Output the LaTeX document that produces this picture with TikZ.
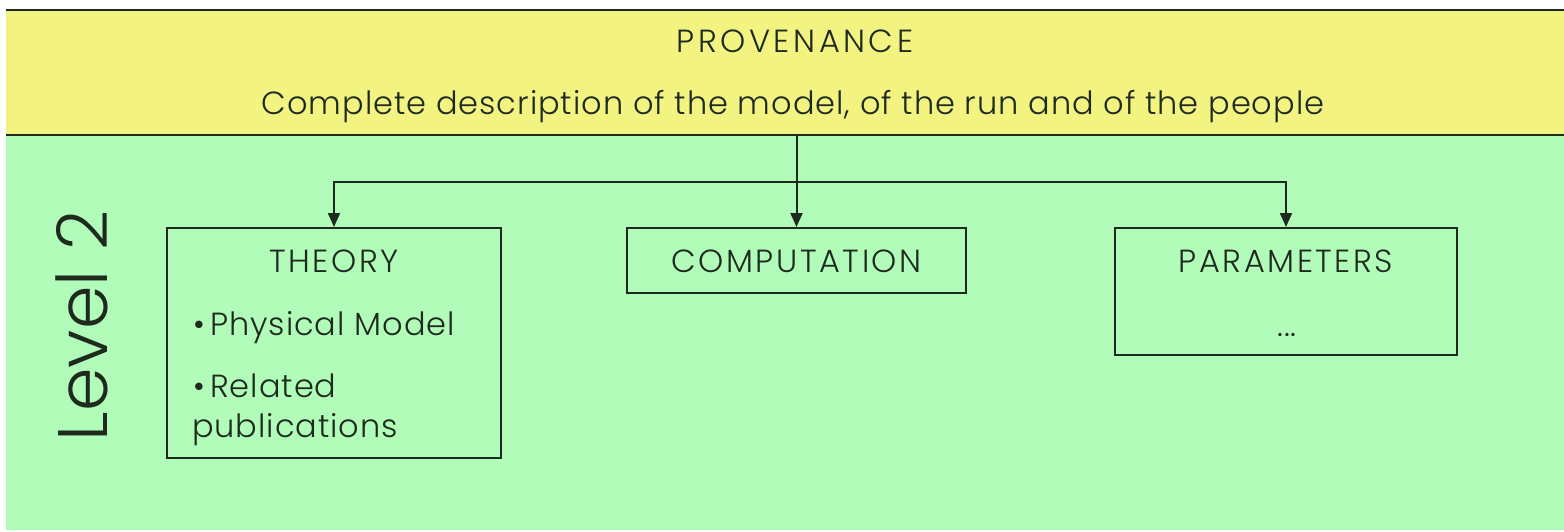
\documentclass[tikz,border=0pt]{standalone}
\usepackage{fontspec}
\setmainfont{Poppins}[UprightFont=* Light]
\usetikzlibrary{arrows.meta}
\definecolor{bandyellow}{HTML}{F2F381}
\definecolor{bandgreen}{HTML}{B0FCB8}
\definecolor{ink}{HTML}{1E2A1E}
\tikzset{
  conn/.style={draw=ink, line width=2pt, -{Triangle[length=14pt,width=12pt]}},
  box/.style={draw=ink, line width=2pt, inner sep=0pt},
  txt/.style={text=ink, inner sep=0pt, font=\fontsize{32}{34}\selectfont\addfontfeature{LetterSpace=3}},
  caps/.style={text=ink, inner sep=0pt, font=\fontsize{32}{34}\selectfont\addfontfeature{LetterSpace=8}},
}
\begin{document}
\begin{tikzpicture}[x=1pt, y=-1pt]
\useasboundingbox (0,0) rectangle (1564,532);
\fill[white] (0,0) rectangle (1564,532);
% provenance band and level band
\fill[bandyellow] (6,10) rectangle (1564,135);
\fill[bandgreen] (6,135) rectangle (1564,530);
\draw[ink, line width=2pt] (6,10) -- (1564,10);
\draw[ink, line width=2pt] (6,135) -- (1564,135);

\node[caps, anchor=base, font=\fontsize{32}{34}\selectfont\addfontfeature{LetterSpace=11}] (prov) at (795,53) {PROVENANCE};
\node[txt, anchor=base] (desc) at (793,115) {Complete description of the model, of the run and of the people};

\node[txt, rotate=90, font=\fontsize{70}{72}\selectfont] (level) at (82,326) {Level 2};

% level 2 boxes
\node[box, minimum width=334pt, minimum height=230pt] (theory) at (334,343) {};
\node[box, minimum width=339pt, minimum height=65pt] (comp) at (796.5,260.5) {};
\node[box, minimum width=342pt, minimum height=127pt] (params) at (1286,291.5) {};

\node[caps, anchor=base] (theoryT) at (334,272) {THEORY};
\node[txt, anchor=base west] (b1) at (193,335) {\textbullet\,Physical Model};
\node[txt, anchor=base west] (b2) at (193,397) {\textbullet\,Related};
\node[txt, anchor=base west] (b3) at (192,437) {publications};
\node[caps, anchor=base] (compT) at (796.5,272) {COMPUTATION};
\node[caps, anchor=base] (paramsT) at (1286,272) {PARAMETERS};
\node[txt, anchor=base] (dots) at (1287,336) {...};

% connectors from the provenance band
\coordinate (src) at (796.5,135);
\coordinate (bus) at (796.5,182);
\draw[conn] (src) -- (comp.north);
\draw[conn] (bus) -| (theory.north);
\draw[conn] (bus) -| (params.north);
\end{tikzpicture}
\end{document}
